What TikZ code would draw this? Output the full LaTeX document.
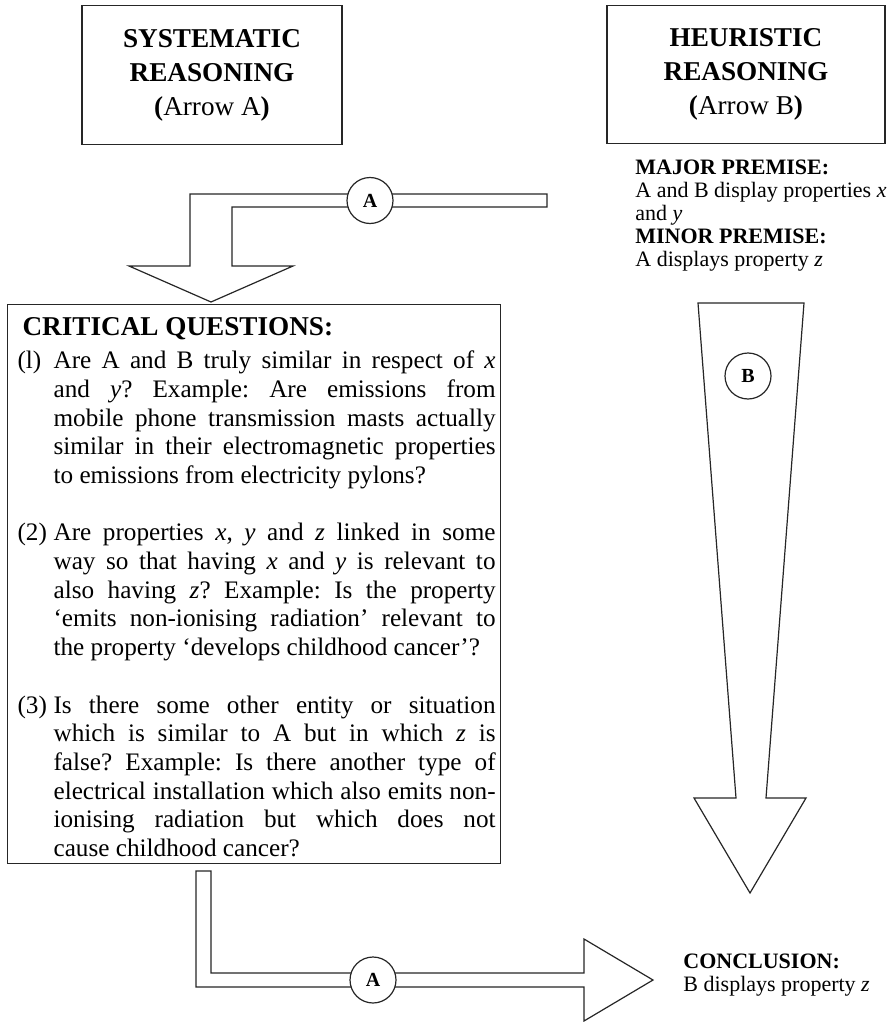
\documentclass[tikz,border=0pt]{standalone}
\usepackage{fontspec}
\setmainfont{Liberation Serif}
\usetikzlibrary{positioning}

% one numbered question, number hanging in the margin
\newcommand{\qitem}[1]{\noindent\hangindent=20.5pt\hangafter=1%
  \makebox[20.5pt][l]{\hspace{2.5pt}#1}}

\begin{document}
\begin{tikzpicture}[x=0.5pt, y=-0.5pt,
		titlebox/.style={draw=black!85, line width=0.6pt, align=center,
			font=\fontsize{13.6}{17}\selectfont},
		badge/.style={circle, draw=black!85, fill=white, line width=0.6pt,
			minimum size=23pt, inner sep=0pt, font=\fontsize{10}{12}\selectfont\bfseries},
		blockarrow/.style={draw=black!85, fill=white, line width=0.6pt},
		note/.style={align=left, inner sep=0pt, font=\fontsize{11}{11.4}\selectfont}
	]
		\useasboundingbox (0,0) rectangle (893,1022);
		% the two kinds of reasoning
		\node[titlebox, minimum width=130pt, minimum height=69.5pt] (sysbox) at (212,75)
			{\textbf{SYSTEMATIC}\\\textbf{REASONING}\\\textbf{(}Arrow A\textbf{)}};
		\node[titlebox, minimum width=139pt, minimum height=69pt] (heurbox) at (746,74.5)
			{\textbf{HEURISTIC}\\\textbf{REASONING}\\\textbf{(}Arrow B\textbf{)}};
		\node[note, anchor=base west] (premise) at (635,266)
			{\textbf{MAJOR PREMISE:}\\A and B display properties \textit{x}\\and \textit{y}\\
			\textbf{MINOR PREMISE:}\\A displays property \textit{z}};
		% arrow A into the questions
		\draw[blockarrow] (547,194) -- (190,194) -- (190,266) -- (129,266) -- (211,302)
			-- (293,266) -- (232,266) -- (232,207) -- (547,207) -- cycle;
		\node[badge] (topA) at (370,200.5) {A};
		\node[draw=black!85, line width=0.6pt, anchor=north west, text width=241.5pt,
			align=justify, inner xsep=2.5pt, inner ysep=0pt, minimum height=279.5pt]
			(critq) at (7,304)
			{\fontsize{12.6}{14.35}\selectfont\frenchspacing
			\tolerance=10000 \hyphenpenalty=10000 \exhyphenpenalty=10000
			\hspace*{5pt}\rule{0pt}{12.2pt}{\fontsize{13.6}{14.35}\selectfont\bfseries CRITICAL QUESTIONS:}\par
			\vspace{2.15pt}
			\qitem{(l)}Are A and B truly similar in respect of \textit{x}\linebreak
			and \textit{y}? Example: Are emissions from\linebreak
			mobile phone transmission masts actually\linebreak
			similar in their electromagnetic properties\linebreak
			to emissions from electricity pylons?\par
			\vspace{14.35pt}
			\qitem{(2)}Are properties \textit{x}, \textit{y} and \textit{z} linked in some\linebreak
			way so that having \textit{x} and \textit{y} is relevant to\linebreak
			also having \textit{z}? Example: Is the property\linebreak
			‘emits non-ionising radiation’ relevant to\linebreak
			the property ‘develops childhood cancer’?\par
			\vspace{14.35pt}
			\qitem{(3)}Is there some other entity or situation\linebreak
			which is similar to A but in which \textit{z} is\linebreak
			false? Example: Is there another type of\linebreak
			electrical installation which also emits non-\linebreak
			ionising radiation but which does not\linebreak
			cause childhood cancer?\par};
		% arrow B straight down
		\draw[blockarrow] (698,303) -- (804,303) -- (766,798) -- (806,798) -- (750,893)
			-- (694,798) -- (736,798) -- cycle;
		\node[badge] (sideB) at (748,376) {B};
		% arrow A on to the conclusion
		\draw[blockarrow] (196,871) -- (211,871) -- (211,973) -- (584,973) -- (584,939)
			-- (653,980) -- (584,1021) -- (584,987) -- (196,987) -- cycle;
		\node[badge] (lowA) at (373,980) {A};
		\node[note, anchor=base west] (concl) at (683,991)
			{\textbf{CONCLUSION:}\\B displays property \textit{z}};
	\end{tikzpicture}
\end{document}
